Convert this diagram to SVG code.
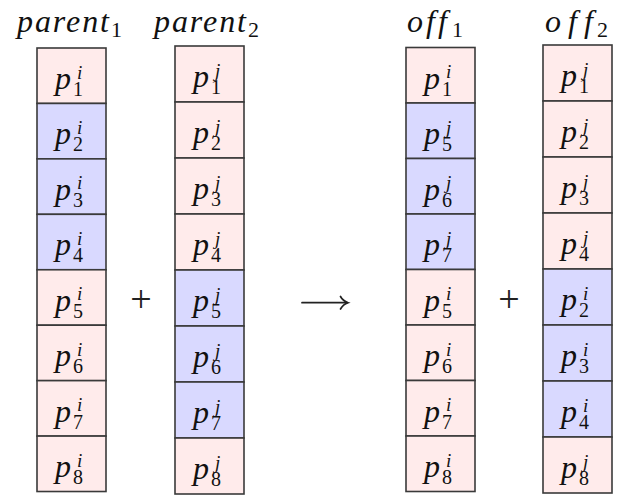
<svg xmlns="http://www.w3.org/2000/svg" width="619" height="498" viewBox="0 0 619 498">
<style>
.pk{fill:#FFEBEB;stroke:#3a3a3a;stroke-width:1.6}
.bl{fill:#D9D9FF;stroke:#3a3a3a;stroke-width:1.6}
.c{font-family:"Liberation Serif",serif;font-style:italic;font-size:32px;fill:#111}
.s{font-size:19px}
.n{font-size:20px;font-style:normal}
.lb{font-family:"Liberation Serif",serif;font-style:italic;font-size:32px;fill:#111}
.ln{font-family:"Liberation Serif",serif;font-style:normal;font-size:22px;fill:#111}
.op{font-family:"Liberation Serif",serif;font-size:38px;fill:#222}
</style>
<rect width="619" height="498" fill="#fff"/>
<g id="labels">
<text class="lb" x="17" y="32"><tspan textLength="92" lengthAdjust="spacing">parent</tspan><tspan class="ln" x="111" y="37">1</tspan></text>
<text class="lb" x="154" y="32"><tspan textLength="92" lengthAdjust="spacing">parent</tspan><tspan class="ln" x="248" y="37">2</tspan></text>
<text class="lb" x="407" y="32"><tspan textLength="40" lengthAdjust="spacing">off</tspan><tspan class="ln" x="452" y="37">1</tspan></text>
<text class="lb" x="545" y="32"><tspan textLength="48" lengthAdjust="spacing">off</tspan><tspan class="ln" x="597" y="37">2</tspan></text>
</g>
<g id="parent1">
<rect class="pk" x="37" y="48" width="69" height="55.44"/>
<rect class="bl" x="37" y="103.44" width="69" height="55.44"/>
<rect class="bl" x="37" y="158.88" width="69" height="55.44"/>
<rect class="bl" x="37" y="214.32" width="69" height="55.44"/>
<rect class="pk" x="37" y="269.76" width="69" height="55.44"/>
<rect class="pk" x="37" y="325.2" width="69" height="55.44"/>
<rect class="pk" x="37" y="380.64" width="69" height="55.44"/>
<rect class="pk" x="37" y="436.08" width="69" height="55.44"/>
<text class="c" x="55" y="89">p<tspan class="s" x="77" dy="-10.5">i</tspan><tspan class="n" x="73" dy="17.5">1</tspan></text>
<text class="c" x="55" y="144.4">p<tspan class="s" x="77" dy="-10.5">i</tspan><tspan class="n" x="73" dy="17.5">2</tspan></text>
<text class="c" x="55" y="199.9">p<tspan class="s" x="77" dy="-10.5">i</tspan><tspan class="n" x="73" dy="17.5">3</tspan></text>
<text class="c" x="55" y="255.3">p<tspan class="s" x="77" dy="-10.5">i</tspan><tspan class="n" x="73" dy="17.5">4</tspan></text>
<text class="c" x="55" y="310.8">p<tspan class="s" x="77" dy="-10.5">i</tspan><tspan class="n" x="73" dy="17.5">5</tspan></text>
<text class="c" x="55" y="366.2">p<tspan class="s" x="77" dy="-10.5">i</tspan><tspan class="n" x="73" dy="17.5">6</tspan></text>
<text class="c" x="55" y="421.6">p<tspan class="s" x="77" dy="-10.5">i</tspan><tspan class="n" x="73" dy="17.5">7</tspan></text>
<text class="c" x="55" y="477.1">p<tspan class="s" x="77" dy="-10.5">i</tspan><tspan class="n" x="73" dy="17.5">8</tspan></text>
</g>
<g id="parent2">
<rect class="pk" x="175" y="46" width="69" height="56"/>
<rect class="pk" x="175" y="102" width="69" height="56"/>
<rect class="pk" x="175" y="158" width="69" height="56"/>
<rect class="pk" x="175" y="214" width="69" height="56"/>
<rect class="bl" x="175" y="270" width="69" height="56"/>
<rect class="bl" x="175" y="326" width="69" height="56"/>
<rect class="bl" x="175" y="382" width="69" height="56"/>
<rect class="pk" x="175" y="438" width="69" height="56"/>
<text class="c" x="193" y="87">p<tspan class="s" x="215" dy="-10.5">j</tspan><tspan class="n" x="211" dy="17.5">1</tspan></text>
<text class="c" x="193" y="143">p<tspan class="s" x="215" dy="-10.5">j</tspan><tspan class="n" x="211" dy="17.5">2</tspan></text>
<text class="c" x="193" y="199">p<tspan class="s" x="215" dy="-10.5">j</tspan><tspan class="n" x="211" dy="17.5">3</tspan></text>
<text class="c" x="193" y="255">p<tspan class="s" x="215" dy="-10.5">j</tspan><tspan class="n" x="211" dy="17.5">4</tspan></text>
<text class="c" x="193" y="311">p<tspan class="s" x="215" dy="-10.5">j</tspan><tspan class="n" x="211" dy="17.5">5</tspan></text>
<text class="c" x="193" y="367">p<tspan class="s" x="215" dy="-10.5">j</tspan><tspan class="n" x="211" dy="17.5">6</tspan></text>
<text class="c" x="193" y="423">p<tspan class="s" x="215" dy="-10.5">j</tspan><tspan class="n" x="211" dy="17.5">7</tspan></text>
<text class="c" x="193" y="479">p<tspan class="s" x="215" dy="-10.5">j</tspan><tspan class="n" x="211" dy="17.5">8</tspan></text>
</g>
<g id="off1">
<rect class="pk" x="406" y="47.5" width="69" height="55.5"/>
<rect class="bl" x="406" y="103" width="69" height="55.5"/>
<rect class="bl" x="406" y="158.5" width="69" height="55.5"/>
<rect class="bl" x="406" y="214" width="69" height="55.5"/>
<rect class="pk" x="406" y="269.5" width="69" height="55.5"/>
<rect class="pk" x="406" y="325" width="69" height="55.5"/>
<rect class="pk" x="406" y="380.5" width="69" height="55.5"/>
<rect class="pk" x="406" y="436" width="69" height="55.5"/>
<text class="c" x="424" y="88.5">p<tspan class="s" x="446" dy="-10.5">i</tspan><tspan class="n" x="442" dy="17.5">1</tspan></text>
<text class="c" x="424" y="144">p<tspan class="s" x="446" dy="-10.5">j</tspan><tspan class="n" x="442" dy="17.5">5</tspan></text>
<text class="c" x="424" y="199.5">p<tspan class="s" x="446" dy="-10.5">j</tspan><tspan class="n" x="442" dy="17.5">6</tspan></text>
<text class="c" x="424" y="255">p<tspan class="s" x="446" dy="-10.5">j</tspan><tspan class="n" x="442" dy="17.5">7</tspan></text>
<text class="c" x="424" y="310.5">p<tspan class="s" x="446" dy="-10.5">i</tspan><tspan class="n" x="442" dy="17.5">5</tspan></text>
<text class="c" x="424" y="366">p<tspan class="s" x="446" dy="-10.5">i</tspan><tspan class="n" x="442" dy="17.5">6</tspan></text>
<text class="c" x="424" y="421.5">p<tspan class="s" x="446" dy="-10.5">i</tspan><tspan class="n" x="442" dy="17.5">7</tspan></text>
<text class="c" x="424" y="477">p<tspan class="s" x="446" dy="-10.5">i</tspan><tspan class="n" x="442" dy="17.5">8</tspan></text>
</g>
<g id="off2">
<rect class="pk" x="543" y="45" width="69" height="56"/>
<rect class="pk" x="543" y="101" width="69" height="56"/>
<rect class="pk" x="543" y="157" width="69" height="56"/>
<rect class="pk" x="543" y="213" width="69" height="56"/>
<rect class="bl" x="543" y="269" width="69" height="56"/>
<rect class="bl" x="543" y="325" width="69" height="56"/>
<rect class="bl" x="543" y="381" width="69" height="56"/>
<rect class="pk" x="543" y="437" width="69" height="56"/>
<text class="c" x="561" y="86">p<tspan class="s" x="583" dy="-10.5">j</tspan><tspan class="n" x="579" dy="17.5">1</tspan></text>
<text class="c" x="561" y="142">p<tspan class="s" x="583" dy="-10.5">j</tspan><tspan class="n" x="579" dy="17.5">2</tspan></text>
<text class="c" x="561" y="198">p<tspan class="s" x="583" dy="-10.5">j</tspan><tspan class="n" x="579" dy="17.5">3</tspan></text>
<text class="c" x="561" y="254">p<tspan class="s" x="583" dy="-10.5">j</tspan><tspan class="n" x="579" dy="17.5">4</tspan></text>
<text class="c" x="561" y="310">p<tspan class="s" x="583" dy="-10.5">i</tspan><tspan class="n" x="579" dy="17.5">2</tspan></text>
<text class="c" x="561" y="366">p<tspan class="s" x="583" dy="-10.5">i</tspan><tspan class="n" x="579" dy="17.5">3</tspan></text>
<text class="c" x="561" y="422">p<tspan class="s" x="583" dy="-10.5">i</tspan><tspan class="n" x="579" dy="17.5">4</tspan></text>
<text class="c" x="561" y="478">p<tspan class="s" x="583" dy="-10.5">j</tspan><tspan class="n" x="579" dy="17.5">8</tspan></text>
</g>
<g id="operators">
<text class="op" x="141" y="312" text-anchor="middle">+</text>
<text class="op" x="509" y="312" text-anchor="middle">+</text>
</g>
<g id="connectors" fill="none" stroke="#222" stroke-width="1.7" stroke-linecap="round">
<path d="M302 302.7 H347"/>
<path d="M340.5 296.5 Q343 301 348 302.7 Q343 304.4 340.5 309"/>
</g>
</svg>
